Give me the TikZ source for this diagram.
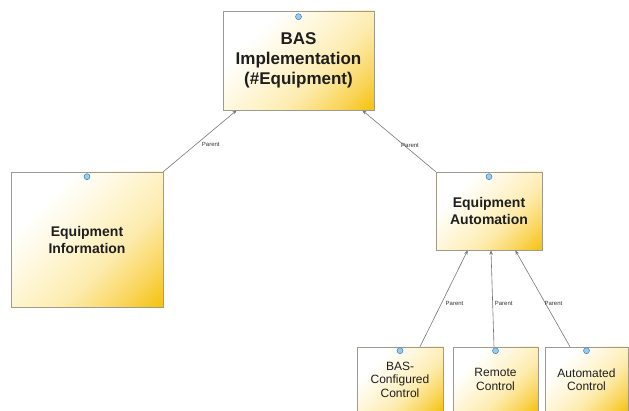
\documentclass[tikz,border=0pt]{standalone}
\usepackage{fontspec}
\setmainfont{Liberation Sans}
\usetikzlibrary{arrows.meta,calc}
\definecolor{boxline}{RGB}{160,155,140}
\definecolor{creamyel}{RGB}{255,247,220}
\definecolor{paleyel}{RGB}{253,236,175}
\definecolor{midyel}{RGB}{250,214,95}
\definecolor{goldyel}{RGB}{245,196,20}
\definecolor{dotfill}{RGB}{150,205,238}
\definecolor{dotline}{RGB}{60,125,185}
\definecolor{conn}{RGB}{120,120,120}
\definecolor{txt}{RGB}{30,30,30}
\pgfdeclareverticalshading{entityshade}{100bp}{color(0bp)=(goldyel); color(16bp)=(goldyel); color(26bp)=(midyel); color(40bp)=(paleyel); color(56bp)=(creamyel); color(70bp)=(white); color(100bp)=(white)}
\tikzset{
  entity/.style={draw=boxline, line width=0.6pt, rectangle, inner sep=0pt, align=center,
    shading=entityshade, shading angle=45, text=txt},
  bigtext/.style={font=\bfseries\fontsize{17}{20}\selectfont},
  midtext/.style={font=\bfseries\fontsize{14}{17}\selectfont},
  smalltext/.style={font=\fontsize{12}{13.5}\selectfont},
  dot/.style={circle, draw=dotline, fill=dotfill, line width=0.5pt, minimum size=6pt, inner sep=0pt},
  parentlink/.style={draw=conn, line width=0.6pt, -{Stealth[length=4.5pt,width=3.5pt]}},
  plabel/.style={font=\fontsize{6}{7}\selectfont, text=black!80, inner sep=1pt}
}
\begin{document}
\begin{tikzpicture}[x=1pt,y=-1pt]
\useasboundingbox (0,0) rectangle (629,411);
\clip (0,0) rectangle (629,411);
\fill[white] (0,0) rectangle (629,411);

\node[entity, bigtext, minimum width=151pt, minimum height=99pt] (bas) at (298.5,60.5)
  {BAS\\Implementation\\(\#Equipment)};
\node[entity, midtext, minimum width=152pt, minimum height=135pt] (einfo) at (87,239.5)
  {Equipment\\Information};
\node[entity, midtext, minimum width=106pt, minimum height=78pt] (eauto) at (489,211)
  {Equipment\\Automation};
\node[entity, smalltext, minimum width=86pt, minimum height=65pt] (bcc) at (400,379.5)
  {BAS-\\Configured\\Control};
\node[entity, smalltext, minimum width=85pt, minimum height=65pt] (rc) at (495.5,379.5)
  {Remote\\Control};
\node[entity, smalltext, minimum width=83pt, minimum height=65pt] (ac) at (586.5,379.5)
  {Automated\\Control};

\node[dot] (d1) at ([yshift=-6pt]bas.north) {};
\node[dot] (d2) at ([yshift=-5pt]einfo.north) {};
\node[dot] (d3) at ([yshift=-5pt]eauto.north) {};
\node[dot] (d4) at ([yshift=-4pt]bcc.north) {};
\node[dot] (d5) at ([yshift=-4pt]rc.north) {};
\node[dot] (d6) at ([yshift=-4pt]ac.north) {};

\coordinate (t1) at ([xshift=14pt]bas.south west);
\coordinate (t2) at ([xshift=-12pt]bas.south east);
\coordinate (t3) at ([xshift=32pt]eauto.south west);
\coordinate (t4) at ([xshift=2pt]eauto.south);
\coordinate (t5) at ([xshift=-27pt]eauto.south east);
\coordinate (s3) at ([xshift=20pt]bcc.north);
\coordinate (s4) at ([xshift=-1.5pt]rc.north);
\coordinate (s5) at ([xshift=-16.5pt]ac.north);

\draw[parentlink] (einfo.north east) -- node[plabel, pos=0.62, xshift=2pt, yshift=-11pt] {Parent} (t1);
\draw[parentlink] (eauto.north west) -- node[plabel, pos=0.35, yshift=5pt] {Parent} (t2);
\draw[parentlink] (s3) -- node[plabel, pos=0.47, right=2pt, yshift=-2pt] {Parent} (t3);
\draw[parentlink] (s4) -- node[plabel, pos=0.47, right=1pt, yshift=-2pt] {Parent} (t4);
\draw[parentlink] (s5) -- node[plabel, pos=0.47, right=-1pt, yshift=-2pt] {Parent} (t5);
\end{tikzpicture}
\end{document}
